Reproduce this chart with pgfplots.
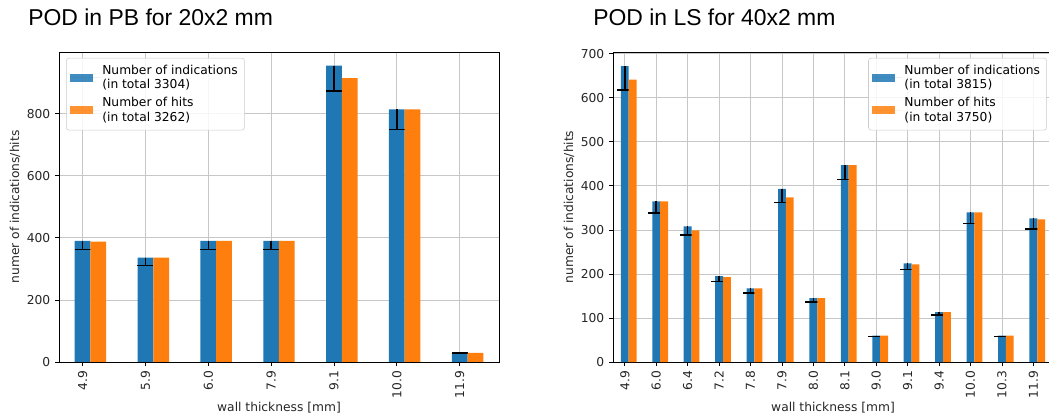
\documentclass[border=0pt]{standalone}
\usepackage{pgfplots}
\pgfplotsset{compat=1.18}
\usepackage{pgfplotstable}
\usepackage{fontspec}
\setmainfont{DejaVu Sans}
\newfontfamily\titlefont{Liberation Sans}
\definecolor{mblue}{HTML}{1F77B4}
\definecolor{morange}{HTML}{FF7F0E}

\pgfplotstableread{
x lab ind hits err
0 4.9 390 388 28
1 5.9 336 336 25
2 6.0 390 390 28
3 7.9 390 390 28
4 9.1 955 915 81
5 10.0 814 814 65
6 11.9 29 29 0.5
}\pbdata

\pgfplotstableread{
x lab ind hits err
0 4.9 672 641 54
1 6.0 365 365 27
2 6.4 308 299 20
3 7.2 195 193 12
4 7.8 167 167 10
5 7.9 393 374 31
6 8.0 145 145 9
7 8.1 447 447 32
8 9.0 60 60 2
9 9.1 224 222 14
10 9.4 113 113 6
11 10.0 340 340 25
12 10.3 60 60 2
13 11.9 326 324 24
}\lsdata

\pgfplotsset{
  podstyle/.style={
    scale only axis,
    width=330pt, height=232.5pt,
    anchor=north west,
    ymin=0,
    xtick=data,
    tick align=outside,
    xtick pos=bottom, ytick pos=left,
    major tick length=3pt,
    grid=major,
    grid style={color=black!22, line width=0.6pt},
    axis line style={line width=0.6pt},
    tick style={black, line width=0.6pt},
    font=\fontsize{9.2}{11}\selectfont,
    /pgf/number format/assume math mode=true,
    ticklabel style={font=\fontsize{9.2}{11}\selectfont, text=black!85},
    xticklabel style={rotate=90, anchor=east},
    xlabel={wall thickness [mm]},
    ylabel={numer of indications/hits},
    every axis x label/.style={at={(axis description cs:0.5,-0.148)}, anchor=center, font=\fontsize{9.2}{11}\selectfont, text=black!85},
    every axis y label/.style={at={(axis description cs:-0.1,0.5)}, rotate=90, anchor=center, font=\fontsize{9.2}{11}\selectfont, text=black!85},
    legend cell align=left,
    legend style={draw=black!20, rounded corners=2pt, fill=white, fill opacity=0.85, text opacity=1,
      font=\fontsize{9.2}{11}\selectfont, nodes={align=left}, inner sep=3pt, row sep=1pt},
    legend image code/.code={\fill[##1, sharp corners] (0pt,-3pt) rectangle (17pt,3pt); \path (0pt,0pt) -- (22pt,0pt);},
  },
  indbar/.style={ybar, bar width=0.25, bar shift=0pt, fill=mblue, draw=none,
    error bars/y dir=minus, error bars/y explicit, error bars/error mark=|,
    error bars/error bar style={black, line width=1.1pt},
    error bars/error mark options={black, line width=1.1pt, mark size=6pt}},
  hitbar/.style={ybar, bar width=0.25, bar shift=0pt, fill=morange, draw=none},
}

\begin{document}
\begin{tikzpicture}
\begin{axis}[podstyle,
  at={(44.25pt,-39pt)},
  xmin=-0.5, xmax=6.5, ymax=999,
  ytick={0,200,400,600,800},
  xticklabels from table={\pbdata}{lab},
  legend style={at={(0.016,0.981)}, anchor=north west},
]
\addplot[indbar] table[x expr=\thisrow{x}-0.125, y=ind, y error=err] {\pbdata};
\addlegendentry{Number of indications\\(in total 3304)}
\addplot[hitbar] table[x expr=\thisrow{x}+0.125, y=hits] {\pbdata};
\addlegendentry{Number of hits\\(in total 3262)}
\end{axis}

\begin{axis}[podstyle,
  at={(459.75pt,-39pt)},
  xmin=-0.5, xmax=13.5, ymax=704,
  ytick={0,100,...,700},
  xticklabels from table={\lsdata}{lab},
  legend style={at={(0.986,0.981)}, anchor=north east},
]
\addplot[indbar] table[x expr=\thisrow{x}-0.125, y=ind, y error=err] {\lsdata};
\addlegendentry{Number of indications\\(in total 3815)}
\addplot[hitbar] table[x expr=\thisrow{x}+0.125, y=hits] {\lsdata};
\addlegendentry{Number of hits\\(in total 3750)}
\end{axis}

\node[inner sep=0pt, anchor=base west, font=\titlefont\fontsize{17.2}{19}\selectfont] at (21pt,-19.5pt) {POD in PB for 20x2 mm};
\node[inner sep=0pt, anchor=base west, font=\titlefont\fontsize{17.2}{19}\selectfont] at (444.75pt,-19.5pt) {POD in LS for 40x2 mm};

\pgfresetboundingbox
\useasboundingbox (0pt,0pt) rectangle (786.75pt,-312.75pt);
\end{tikzpicture}
\end{document}
